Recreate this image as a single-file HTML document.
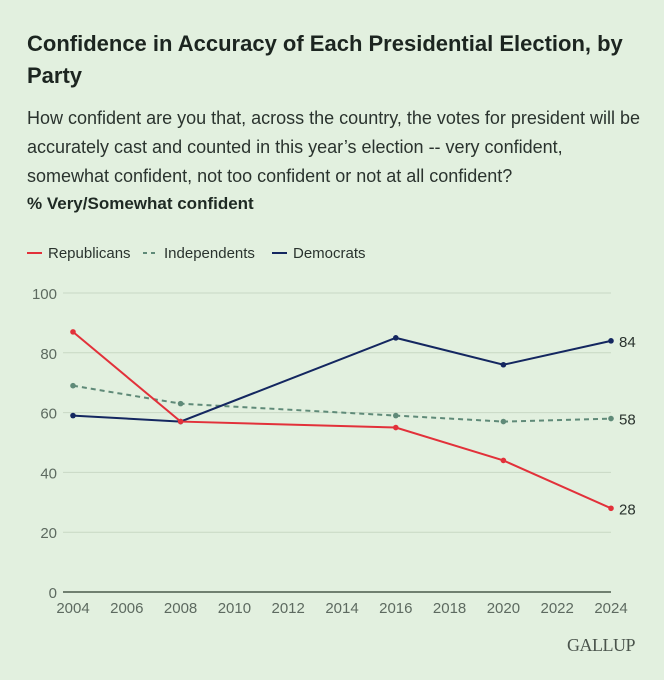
<!DOCTYPE html>
<html><head><meta charset="utf-8"><style>
body{margin:0;background:#e2f0df;font-family:"Liberation Sans",sans-serif;color:#1f2a24;}
.wrap{position:relative;width:664px;height:680px;overflow:hidden;}
h1{position:absolute;left:27px;top:28px;margin:0;font-size:22px;line-height:32px;font-weight:bold;width:620px;color:#1c2520;}
.sub{position:absolute;left:27px;top:104px;font-size:18px;line-height:29px;width:640px;white-space:nowrap;color:#2a332e;}
.lab{position:absolute;left:27px;top:194px;font-size:17px;font-weight:bold;}
svg{position:absolute;left:0;top:0;}
</style></head><body>
<div class="wrap">
<h1>Confidence in Accuracy of Each Presidential Election, by Party</h1>
<div class="sub">How confident are you that, across the country, the votes for president will be<br>accurately cast and counted in this year’s election -- very confident,<br>somewhat confident, not too confident or not at all confident?</div>
<div class="lab">% Very/Somewhat confident</div>
<svg id="c" width="664" height="680"></svg>
</div>
<script>
const years=[2004,2008,2016,2020,2024];
const rep=[87,57,55,44,28];
const ind=[69,63,59,57,58];
const dem=[59,57,85,76,84];
const yTicks=[0,20,40,60,80,100];
const xTicks=[2004,2006,2008,2010,2012,2014,2016,2018,2020,2022,2024];
const NS='http://www.w3.org/2000/svg';
const svg=document.getElementById('c');
const x=v=>73+(v-2004)*(611-73)/20;
const y=v=>592-v*2.99;
function mk(t,a,txt){const e=document.createElementNS(NS,t);for(const k in a)e.setAttribute(k,a[k]);if(txt!=null)e.textContent=txt;svg.appendChild(e);return e;}
yTicks.forEach(t=>{
 const g=mk('line',{x1:63,x2:611,y1:y(t),y2:y(t),stroke:t===0?'#4a5a4c':'#c8d8c4','stroke-width':t===0?1.5:1});
 
 
 const l=mk('text',{x:57,y:y(t)+6,'text-anchor':'end','font-size':15,fill:'#5d6a60'},t);
 
 
});
xTicks.forEach(t=>{
 const l=mk('text',{x:x(t),y:613,'text-anchor':'middle','font-size':15,fill:'#5d6a60'},t);
 
 
});
function series(vals,color,dash,name){
 const p=mk('polyline',{points:vals.map((v,i)=>x(years[i])+','+y(v)).join(' '),fill:'none',stroke:color,'stroke-width':2,'stroke-dasharray':dash||''});
 
 
 vals.forEach((v,i)=>{
  const c=mk('circle',{cx:x(years[i]),cy:y(v),r:2.8,fill:color});
  
  
 });
 const last=vals[vals.length-1];
 const t=mk('text',{x:619,y:y(last)+6,'font-size':15,fill:'#2a332e'},last);
 
 
}
series(ind,'#5f8a78','5,4','independents');
series(dem,'#142760','','democrats');
series(rep,'#e2313a','','republicans');
const leg=[['Republicans','#e2313a','',27],['Independents','#5f8a78','4,4',143],['Democrats','#142760','',272]];
leg.forEach(([n,c,d,lx])=>{
 const l=mk('line',{x1:lx,x2:lx+15,y1:253,y2:253,stroke:c,'stroke-width':2,'stroke-dasharray':d});
 
 
 const t=mk('text',{x:lx+21,y:258,'font-size':15,fill:'#2a332e'},n);
 
 
});
const g=mk('text',{x:635,y:651,'text-anchor':'end','font-size':18,'font-family':'Liberation Serif, serif',fill:'#4a544c','letter-spacing':'-0.5'},'GALLUP');


</script>
</body></html>
